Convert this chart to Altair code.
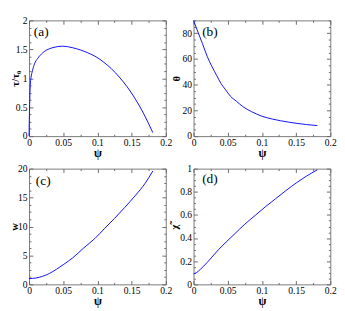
import altair as alt
import pandas as pd
import numpy as np

# ---- data ----
psi_a = [0, 0.0005, 0.001, 0.002, 0.003, 0.005, 0.008, 0.0125, 0.02, 0.026, 0.035, 0.049,
         0.063, 0.075, 0.086, 0.098, 0.109, 0.12, 0.132, 0.143, 0.155, 0.168, 0.181]
tau_a = [0, 0.35, 0.6, 0.92, 1.02, 1.13, 1.25, 1.34, 1.44, 1.49, 1.53, 1.555,
         1.53, 1.49, 1.44, 1.37, 1.28, 1.17, 1.02, 0.86, 0.65, 0.38, 0.06]

psi_b = [0, 0.005, 0.013, 0.02, 0.027, 0.034, 0.04, 0.047, 0.054, 0.063, 0.072, 0.085,
         0.1, 0.115, 0.127, 0.14, 0.15, 0.165, 0.181]
theta_b = [90, 83, 72, 62, 54, 47, 41, 36, 31, 27, 23, 19,
           15.5, 13.3, 12, 10.8, 10, 9, 8.2]

psi_c = [0, 0.01, 0.02, 0.03, 0.04, 0.05, 0.064, 0.08, 0.096, 0.11, 0.125, 0.14, 0.155, 0.17, 0.181]
w_c = [1.0, 1.1, 1.4, 1.9, 2.6, 3.4, 4.6, 6.3, 7.9, 9.6, 11.4, 13.3, 15.3, 17.5, 19.6]

psi_d = [0, 0.004, 0.01, 0.02, 0.0365, 0.059, 0.075, 0.091, 0.105, 0.12, 0.135, 0.151, 0.165, 0.181]
chi_d = [0.09, 0.1, 0.13, 0.19, 0.30, 0.43, 0.52, 0.60, 0.67, 0.74, 0.81, 0.88, 0.935, 0.99]

x_major = [0, 0.05, 0.1, 0.15, 0.2]
x_minor = [0.025, 0.075, 0.125, 0.175]

W, H = 143, 121
FONT = "Liberation Serif"
TICK = "#666666"


def minor_vals(ymax, step, major):
    vals = np.round(np.arange(0, ymax + step / 2, step), 6)
    return [float(v) for v in vals
            if not np.isclose(v % major, 0) and not np.isclose(v % major, major)]


def panel(psi, vals, ytitle, ymax, ymajor, ystep, label, lx, ly, tpad):
    df = pd.DataFrame({"psi": psi, "v": vals})
    y_major = [float(v) for v in np.round(np.arange(0, ymax + ymajor / 2, ymajor), 6)]
    y_minor = minor_vals(ymax, ystep, ymajor)
    xs = alt.Scale(domain=[0, 0.2], nice=False, zero=False)
    ys = alt.Scale(domain=[0, ymax], nice=False, zero=False)
    common = dict(grid=False, domain=False, tickColor=TICK, tickWidth=1,
                  minExtent=0, maxExtent=200)

    def ax(orient, values, size, offset, labels, title=None, tsize=12, tp=1):
        args = dict(common)
        args.update(orient=orient, values=values, tickSize=size, offset=offset, labels=labels)
        if labels:
            args.update(labelExpr="'' + datum.value", labelFont=FONT, labelFontSize=10,
                        labelColor="#000", labelPadding=2, labelFlush=False)
        if title:
            args.update(title=title, titleFont=FONT, titleFontSize=tsize, titleFontWeight="bold",
                        titleColor="#000", titlePadding=tp)
        else:
            args.update(title=None)
        return alt.Axis(**args)

    base = alt.Chart(df)
    line = base.mark_line(color="#0a0aff", strokeWidth=1, interpolate="monotone").encode(
        x=alt.X("psi:Q", scale=xs, axis=ax("bottom", x_major, 4, -4, True, "ψ", 12, 0)),
        y=alt.Y("v:Q", scale=ys, axis=ax("left", y_major, 4, -4, True, ytitle, 11, tpad)),
    )
    l2 = base.mark_point(opacity=0, size=1).encode(
        x=alt.X("psi:Q", scale=xs, axis=ax("bottom", x_minor, 2, -2, False)),
        y=alt.Y("v:Q", scale=ys, axis=ax("left", y_minor, 2, -2, False)),
    )
    # ticks along the top and right edges, pointing inwards
    l3 = base.mark_point(opacity=0, size=1).encode(
        x=alt.X("psi:Q", scale=xs, axis=ax("bottom", x_major, 4, -H, False)),
        y=alt.Y("v:Q", scale=ys, axis=ax("left", y_major, 4, -W, False)),
    )
    l4 = base.mark_point(opacity=0, size=1).encode(
        x=alt.X("psi:Q", scale=xs, axis=ax("bottom", x_minor, 2, -H, False)),
        y=alt.Y("v:Q", scale=ys, axis=ax("left", y_minor, 2, -W, False)),
    )
    txt = alt.Chart(pd.DataFrame({"t": [label]})).mark_text(
        font=FONT, fontSize=14, align="left", baseline="middle", color="#000"
    ).encode(x=alt.value(lx), y=alt.value(ly), text="t:N")
    return alt.layer(line, l2, l3, l4, txt).resolve_axis(
        x="independent", y="independent"
    ).properties(width=W, height=H)


pa = panel(psi_a, tau_a, "τ/τ₀", 2, 0.5, 0.125, "(a)", 5, 12, -5)
pb = panel(psi_b, theta_b, "θ", 90, 20, 5, "(b)", 9, 12, 1)
pc = panel(psi_c, w_c, "w", 20, 5, 1.25, "(c)", 7, 13, -2)
pd_ = panel(psi_d, chi_d, "χ̃", 1, 0.2, 0.05, "(d)", 9, 11, 0)

chart = alt.concat(
    pa, pb, pc, pd_, columns=2, spacing={"row": 4, "column": -4}
).properties(padding=0).configure_view(stroke="#777777", strokeWidth=1)

chart.save("out.html", embed_options={"renderer": "svg", "actions": False})
